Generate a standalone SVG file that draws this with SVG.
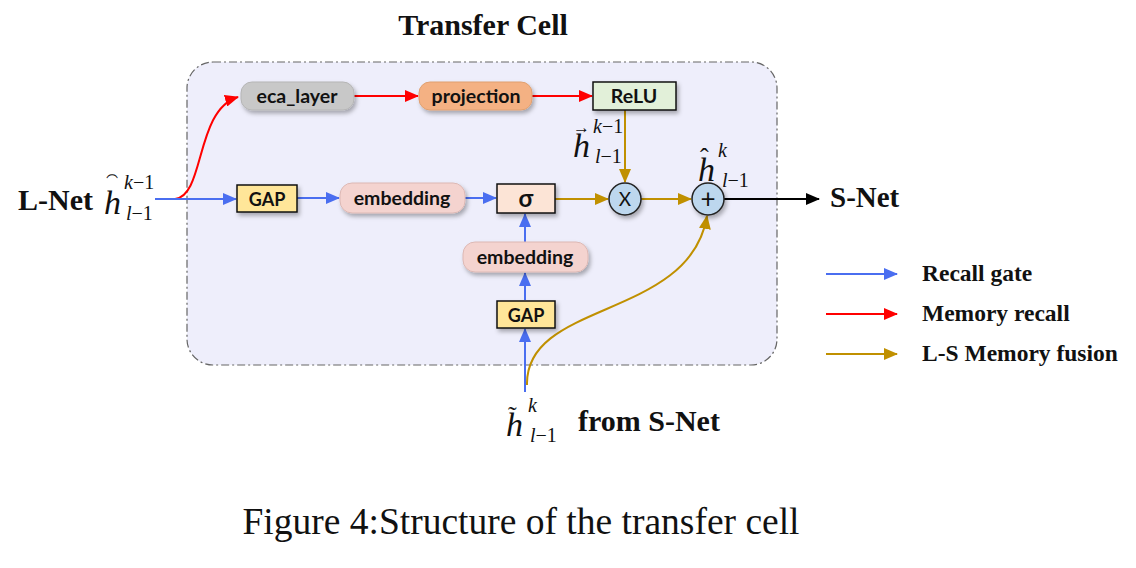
<svg xmlns="http://www.w3.org/2000/svg" width="1136" height="568" viewBox="0 0 1136 568">
<defs>
<filter id="sh" x="-20%" y="-20%" width="150%" height="160%"><feDropShadow dx="2" dy="3" stdDeviation="2" flood-color="#000" flood-opacity="0.3"/></filter>
<marker id="ab" markerWidth="14" markerHeight="12" refX="13" refY="6" orient="auto" markerUnits="userSpaceOnUse" viewBox="0 0 14 12"><path d="M0,0 L14,6 L0,12 z" fill="#4a6ef0"/></marker>
<marker id="ar" markerWidth="14" markerHeight="12" refX="13" refY="6" orient="auto" markerUnits="userSpaceOnUse" viewBox="0 0 14 12"><path d="M0,0 L14,6 L0,12 z" fill="#ff0000"/></marker>
<marker id="ag" markerWidth="14" markerHeight="12" refX="13" refY="6" orient="auto" markerUnits="userSpaceOnUse" viewBox="0 0 14 12"><path d="M0,0 L14,6 L0,12 z" fill="#c09000"/></marker>
<marker id="ak" markerWidth="14" markerHeight="12" refX="13" refY="6" orient="auto" markerUnits="userSpaceOnUse" viewBox="0 0 14 12"><path d="M0,0 L14,6 L0,12 z" fill="#000"/></marker>
</defs>
<style>
.lbl{font-family:Lato,"Open Sans",sans-serif;font-weight:700;fill:#111;text-anchor:middle}
.ser{font-family:"Liberation Serif","Times New Roman",serif;font-weight:700;fill:#111}
.mi{font-family:"Liberation Serif","Times New Roman",serif;font-style:italic;fill:#111}
.mn{font-family:"Liberation Serif","Times New Roman",serif;font-style:normal;fill:#111}
.b{stroke:#4a6ef0;stroke-width:2;fill:none}
.r{stroke:#ff0000;stroke-width:2;fill:none}
.g{stroke:#c09000;stroke-width:2;fill:none}
</style>
<rect width="1136" height="568" fill="#fff"/>
<g id="container">
<rect x="187" y="62" width="590" height="303" rx="26" fill="#eeeefb" stroke="#666" stroke-width="1.2" stroke-dasharray="8,3,2,3"/>
<text x="483" y="35" class="ser" font-size="30" text-anchor="middle">Transfer Cell</text>
</g>
<g id="connectors">
<path class="r" d="M175,199 C205,196 195,110 238,97" marker-end="url(#ar)"/>
<path class="r" d="M354,96 L418,96" marker-end="url(#ar)"/>
<path class="r" d="M532,96 L592,96" marker-end="url(#ar)"/>
<path class="b" d="M155,199 L236,199" marker-end="url(#ab)"/>
<path class="b" d="M297,198 L339,198" marker-end="url(#ab)"/>
<path class="b" d="M465,198 L496,198" marker-end="url(#ab)"/>
<path class="b" d="M525,242 L525,214" marker-end="url(#ab)"/>
<path class="b" d="M525,300 L525,273" marker-end="url(#ab)"/>
<path class="b" d="M525,392 L525,329" marker-end="url(#ab)"/>
<path class="g" d="M527,385 C525,300 690,320 707,216" marker-end="url(#ag)"/>
<path class="g" d="M555,199 L608,199" marker-end="url(#ag)"/>
<path class="g" d="M625,110 L625,182" marker-end="url(#ag)"/>
<path class="g" d="M641,199 L691,199" marker-end="url(#ag)"/>
<path d="M724,199 L819,199" stroke="#000" stroke-width="2" fill="none" marker-end="url(#ak)"/>
</g>
<g id="eca_layer"><rect x="241" y="82" width="113" height="28" rx="11" fill="#c8c8c8" stroke="#b5b5b5" filter="url(#sh)"/><text x="297" y="102.5" class="lbl" font-size="19.5">eca_layer</text></g>
<g id="projection"><rect x="419" y="82" width="113" height="28" rx="11" fill="#f4b183" stroke="#e0a070" filter="url(#sh)"/><text x="476" y="102.5" class="lbl" font-size="19.5">projection</text></g>
<g id="relu"><rect x="593" y="82" width="83" height="28" fill="#e2f0d9" stroke="#111" stroke-width="1.5" filter="url(#sh)"/><text x="634" y="102.5" class="lbl" font-size="19.5">ReLU</text></g>
<g id="gap1"><rect x="237" y="185" width="60" height="27" fill="#ffe699" stroke="#111" stroke-width="1.5" filter="url(#sh)"/><text x="267" y="205.5" class="lbl" font-size="18">GAP</text></g>
<g id="embedding1"><rect x="340" y="183" width="125" height="30" rx="12" fill="#f4d3cf" stroke="#dcb8b4" filter="url(#sh)"/><text x="402" y="204.5" class="lbl" font-size="19.5">embedding</text></g>
<g id="sigma"><rect x="497" y="184" width="58" height="29" fill="#fce4d6" stroke="#111" stroke-width="1.5" filter="url(#sh)"/><text x="526" y="207" class="lbl" font-size="24">σ</text></g>
<g id="embedding2"><rect x="463" y="242" width="125" height="30" rx="12" fill="#f4d3cf" stroke="#dcb8b4" filter="url(#sh)"/><text x="525" y="263.5" class="lbl" font-size="19.5">embedding</text></g>
<g id="gap2"><rect x="497" y="301" width="58" height="27" fill="#ffe699" stroke="#111" stroke-width="1.5" filter="url(#sh)"/><text x="526" y="321.5" class="lbl" font-size="18">GAP</text></g>
<g id="mult"><circle cx="625" cy="199" r="16" fill="#bdd7ee" stroke="#222" stroke-width="1.5" filter="url(#sh)"/><text x="625" y="206" class="lbl" style="font-weight:400" font-size="19">X</text></g>
<g id="add"><circle cx="708" cy="199" r="16" fill="#bdd7ee" stroke="#222" stroke-width="1.5" filter="url(#sh)"/><text x="708" y="208" class="lbl" style="font-weight:400" font-size="26">+</text></g>
<g id="lnet">
<text x="18" y="210" class="ser" font-size="30">L-Net</text>
<text x="104" y="214" class="mi" font-size="34">h</text>
<text x="106" y="190" class="mn" font-size="20">⁀</text>
<text x="124" y="189" font-size="20"><tspan class="mi">k</tspan><tspan class="mn">−1</tspan></text>
<text x="126" y="220" font-size="20"><tspan class="mi">l</tspan><tspan class="mn">−1</tspan></text>
</g>
<g id="hvec">
<text x="573" y="157" class="mi" font-size="34">h</text>
<text x="573" y="133" class="mn" font-size="17">→</text>
<text x="593" y="133" font-size="20"><tspan class="mi">k</tspan><tspan class="mn">−1</tspan></text>
<text x="595" y="163" font-size="20"><tspan class="mi">l</tspan><tspan class="mn">−1</tspan></text>
</g>
<g id="hhat">
<text x="698" y="181" class="mi" font-size="34">h</text>
<text x="700" y="166" class="mn" font-size="26">ˆ</text>
<text x="718" y="157" class="mi" font-size="20">k</text>
<text x="722" y="187" font-size="20"><tspan class="mi">l</tspan><tspan class="mn">−1</tspan></text>
</g>
<g id="snet"><text x="830" y="207" class="ser" font-size="29">S-Net</text></g>
<g id="htilde">
<text x="506" y="436" class="mi" font-size="34">h</text>
<text x="508" y="424" class="mn" font-size="26">˜</text>
<text x="528" y="412" class="mi" font-size="20">k</text>
<text x="530" y="442" font-size="20"><tspan class="mi">l</tspan><tspan class="mn">−1</tspan></text>
<text x="578" y="431" class="ser" font-size="30">from S-Net</text>
</g>
<g id="legend">
<path class="b" d="M826,274 L897,274" marker-end="url(#ab)"/>
<path class="r" d="M826,314 L897,314" marker-end="url(#ar)"/>
<path class="g" d="M826,354 L897,354" marker-end="url(#ag)"/>
<text x="922" y="281" class="ser" font-size="23.5">Recall gate</text>
<text x="922" y="321" class="ser" font-size="23.5">Memory recall</text>
<text x="922" y="361" class="ser" font-size="23.5">L-S Memory fusion</text>
</g>
<g id="caption"><text x="521" y="534" font-family="Liberation Serif, Times New Roman, serif" font-size="37.5" fill="#111" text-anchor="middle">Figure 4:Structure of the transfer cell</text></g>
</svg>
